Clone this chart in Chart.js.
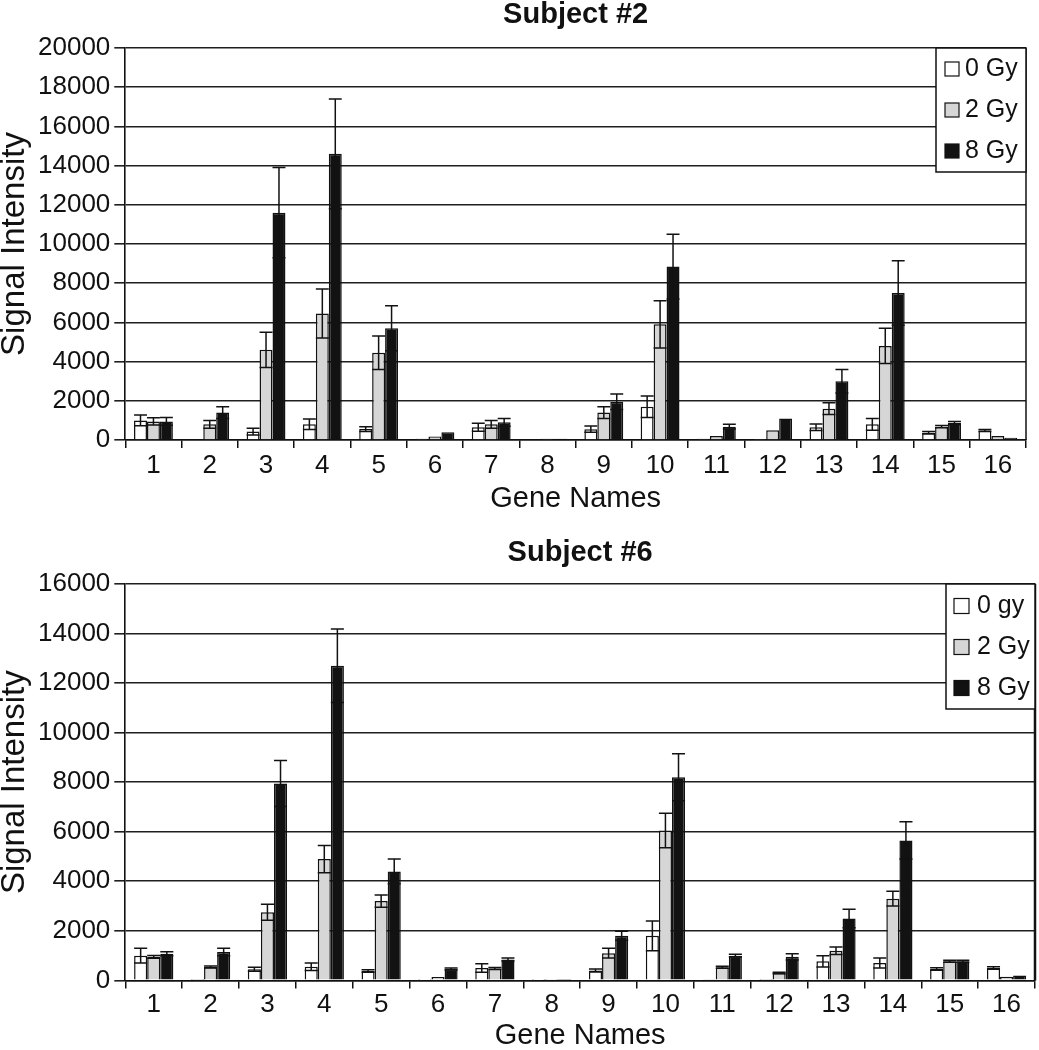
<!DOCTYPE html>
<html>
<head>
<meta charset="utf-8">
<title>Signal Intensity by Gene</title>
<script src="https://cdn.jsdelivr.net/npm/chart.js@4.4.1/dist/chart.umd.min.js"></script>
<style>
    body { margin: 0; background: #fff; }
    .panel { width: 1039px; height: 525px; }
</style>
</head>
<body>
<div class="panel"><canvas id="subject2Chart" width="1039" height="525"></canvas></div>
<div class="panel"><canvas id="subject6Chart" width="1039" height="525"></canvas></div>
<script>
const genes = ["1", "2", "3", "4", "5", "6", "7", "8", "9", "10", "11", "12", "13", "14", "15", "16"];

// Subject #2
const s2Labels = ["0 Gy", "2 Gy", "8 Gy"];
const s2Dose0 = [1000, 40, 430, 800, 560, 60, 650, 40, 550, 1700, 60, 50, 650, 800, 370, 480];
const s2Dose0Err = [270, 0, 170, 270, 120, 0, 200, 0, 160, 550, 0, 0, 170, 300, 60, 50];
const s2Dose2 = [950, 800, 4600, 6450, 4450, 180, 800, 60, 1400, 5900, 200, 500, 1600, 4800, 680, 200];
const s2Dose2Err = [180, 200, 900, 1250, 850, 0, 200, 0, 300, 1200, 0, 0, 300, 900, 60, 0];
const s2Dose8 = [950, 1400, 11600, 14600, 5700, 400, 900, 60, 1950, 8850, 680, 1100, 3000, 7500, 870, 110];
const s2Dose8Err = [200, 300, 2300, 2800, 1150, 0, 200, 0, 400, 1650, 120, 0, 600, 1650, 80, 0];
const s2YTicks = [0, 2000, 4000, 6000, 8000, 10000, 12000, 14000, 16000, 18000, 20000];

// Subject #6
const s6Labels = ["0 gy", "2 Gy", "8 Gy"];
const s6Dose0 = [1000, 60, 450, 550, 380, 10, 500, 5, 400, 1800, 50, 60, 770, 700, 460, 500];
const s6Dose0Err = [300, 0, 80, 150, 50, 0, 170, 0, 60, 600, 0, 0, 230, 200, 50, 50];
const s6Dose2 = [950, 540, 2750, 4900, 3200, 140, 480, 10, 1100, 6050, 530, 300, 1200, 3300, 770, 150];
const s6Dose2Err = [60, 40, 320, 550, 250, 0, 40, 0, 200, 700, 40, 30, 150, 300, 40, 0];
const s6Dose8 = [1080, 1150, 7950, 12700, 4400, 460, 840, 60, 1800, 8200, 1000, 950, 2500, 5650, 770, 200];
const s6Dose8Err = [80, 150, 930, 1480, 500, 40, 60, 0, 180, 950, 60, 130, 370, 750, 40, 0];
const s6YTicks = [0, 2000, 4000, 6000, 8000, 10000, 12000, 14000, 16000];

const barColors = ["#ffffff", "#d6d6d6", "#121212"];

Chart.defaults.font.family = '"Liberation Sans", Arial, sans-serif';
Chart.defaults.color = "#111";

// error bars drawn through the y scale and bar elements
const errorBars = {
    id: "errorBars",
    afterDatasetsDraw(chart) {
        const ctx = chart.ctx;
        const y = chart.scales.y;
        ctx.save();
        ctx.strokeStyle = "#121212";
        ctx.lineWidth = 1.5;
        chart.data.datasets.forEach((ds, i) => {
            const meta = chart.getDatasetMeta(i);
            meta.data.forEach((bar, j) => {
                const err = ds.errors[j];
                if (!err) return;
                const v = ds.data[j];
                const top = y.getPixelForValue(v + err);
                const bottom = y.getPixelForValue(Math.max(v - err, 0));
                const half = bar.width / 2;
                ctx.beginPath();
                ctx.moveTo(bar.x, top);
                ctx.lineTo(bar.x, bottom);
                ctx.moveTo(bar.x - half, top);
                ctx.lineTo(bar.x + half, top);
                ctx.moveTo(bar.x - half, bottom);
                ctx.lineTo(bar.x + half, bottom);
                ctx.stroke();
            });
        });
        ctx.restore();
    }
};

// boxed legend in the top right corner of the plot, plus right frame line
const boxLegend = {
    id: "boxLegend",
    afterDatasetsDraw(chart, args, opts) {
        const { ctx, chartArea } = chart;
        ctx.save();
        ctx.strokeStyle = "#111";
        ctx.lineWidth = opts.frameWidth;
        ctx.beginPath();
        ctx.moveTo(chartArea.right, chartArea.top);
        ctx.lineTo(chartArea.right, chartArea.bottom);
        ctx.stroke();

        const left = chartArea.right - opts.width;
        const top = chartArea.top;
        ctx.fillStyle = "#fff";
        ctx.fillRect(left, top, opts.width, opts.height);
        ctx.lineWidth = 1.5;
        ctx.strokeRect(left, top, opts.width, opts.height);

        ctx.font = opts.fontSize + 'px "Liberation Sans", Arial, sans-serif';
        ctx.textBaseline = "middle";
        chart.data.datasets.forEach((ds, i) => {
            const cy = top + opts.firstRow + i * opts.rowGap;
            ctx.fillStyle = ds.backgroundColor;
            ctx.fillRect(left + opts.boxX, cy - opts.boxSize / 2, opts.boxSize, opts.boxSize);
            ctx.lineWidth = 1.2;
            ctx.strokeRect(left + opts.boxX, cy - opts.boxSize / 2, opts.boxSize, opts.boxSize);
            ctx.fillStyle = "#111";
            ctx.fillText(ds.label, left + opts.textX, cy);
        });
        ctx.restore();
    }
};

function makeDatasets(labels, values, errors) {
    return labels.map((label, i) => ({
        label: label,
        data: values[i],
        errors: errors[i],
        backgroundColor: barColors[i],
        borderColor: "#111",
        borderWidth: 1.5,
        categoryPercentage: 0.69,
        barPercentage: 1.0
    }));
}

function renderSubjectChart(id, title, labels, values, errors, yTicks, layout) {
    new Chart(document.getElementById(id), {
        type: "bar",
        data: {
            labels: genes,
            datasets: makeDatasets(labels, values, errors)
        },
        plugins: [errorBars, boxLegend],
        options: {
            responsive: false,
            animation: false,
            devicePixelRatio: 1,
            layout: { padding: layout.padding },
            plugins: {
                legend: { display: false },
                tooltip: { enabled: false },
                title: {
                    display: true,
                    text: title,
                    fullSize: false,
                    color: "#111",
                    font: { size: 29, weight: "bold", lineHeight: 1 },
                    padding: { top: 0, bottom: layout.titleGap }
                },
                boxLegend: layout.legend
            },
            scales: {
                x: {
                    grid: { drawOnChartArea: false, tickLength: 8, color: "#111", lineWidth: 1.5 },
                    border: { color: "#111", width: 1.5 },
                    ticks: { font: { size: 26, lineHeight: 1.1 }, padding: layout.tickPad, maxRotation: 0, autoSkip: false },
                    title: {
                        display: true,
                        text: "Gene Names",
                        font: { size: 29, lineHeight: 1 },
                        padding: { top: 0, bottom: 0 }
                    }
                },
                y: {
                    min: 0,
                    max: yTicks[yTicks.length - 1],
                    afterBuildTicks: axis => { axis.ticks = yTicks.map(v => ({ value: v })); },
                    grid: { color: "#1e1e1e", lineWidth: 1.6, tickLength: 11 },
                    border: { color: "#111", width: 1.6 },
                    ticks: { font: { size: 26 }, padding: 4, callback: v => String(v) },
                    title: {
                        display: true,
                        text: "Signal Intensity",
                        font: { size: 33, lineHeight: 1 },
                        padding: { top: -2, bottom: 3 }
                    }
                }
            }
        }
    });
}

renderSubjectChart("subject2Chart", "Subject #2", s2Labels,
    [s2Dose0, s2Dose2, s2Dose8], [s2Dose0Err, s2Dose2Err, s2Dose8Err], s2YTicks, {
        padding: { top: 0, left: 0, right: 13, bottom: 11.4 },
        titleGap: 19,
        tickPad: 4,
        legend: { width: 90, height: 124, firstRow: 21, rowGap: 41, boxX: 9, boxSize: 14, textX: 29, fontSize: 25, frameWidth: 1.5 }
    });

renderSubjectChart("subject6Chart", "Subject #6", s6Labels,
    [s6Dose0, s6Dose2, s6Dose8], [s6Dose0Err, s6Dose2Err, s6Dose8Err], s6YTicks, {
        padding: { top: 13.5, left: 0, right: 4, bottom: 0 },
        titleGap: 16.5,
        tickPad: 2,
        legend: { width: 89, height: 125, firstRow: 22, rowGap: 41, boxX: 8, boxSize: 15, textX: 31, fontSize: 25, frameWidth: 2.5 }
    });
</script>
</body>
</html>
